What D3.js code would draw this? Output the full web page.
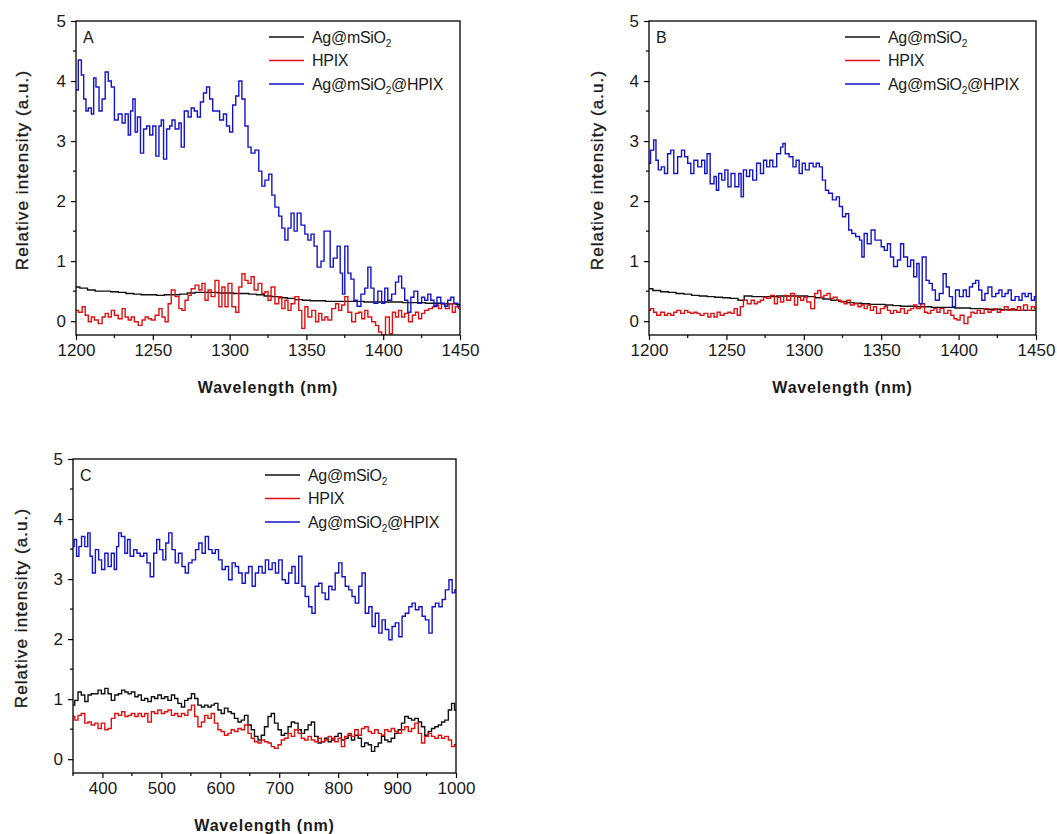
<!DOCTYPE html>
<html>
<head>
<meta charset="utf-8">
<script src="https://cdn.jsdelivr.net/npm/d3@7"></script>
<style>
  body { margin: 0; background: #fff; }
  svg { display: block; font-family: Arial, "Liberation Sans", sans-serif; }
</style>
</head>
<body>
<svg id="chart" width="1057" height="834"></svg>
<script>
// ---- data: [wavelength nm, relative intensity] ----
const seriesNames = ['Ag@mSiO2', 'HPIX', 'Ag@mSiO2@HPIX'];
const seriesColors = ['#111111', '#e01010', '#1414c8'];

// panel A
const agA = [[1200,0.57],[1205,0.55],[1210,0.52],[1215,0.5],[1220,0.5],[1225,0.49],[1230,0.48],[1235,0.46],[1240,0.45],[1245,0.44],[1250,0.44],[1255,0.43],[1260,0.44],[1265,0.44],[1270,0.45],[1275,0.47],[1280,0.48],[1285,0.48],[1290,0.48],[1295,0.47],[1300,0.47],[1305,0.46],[1310,0.46],[1315,0.45],[1320,0.44],[1325,0.42],[1330,0.41],[1335,0.39],[1340,0.38],[1345,0.36],[1350,0.35],[1355,0.34],[1360,0.34],[1365,0.33],[1370,0.33],[1375,0.33],[1380,0.33],[1385,0.33],[1390,0.32],[1395,0.32],[1400,0.32],[1405,0.32],[1410,0.32],[1415,0.31],[1420,0.31],[1425,0.31],[1430,0.3],[1435,0.3],[1440,0.29],[1445,0.29],[1450,0.28]];
const hpixA = [[1200,0.18],[1203,0.15],[1205,0.24],[1207,0.1],[1209,-0.01],[1211,0.07],[1213,0.02],[1216,-0.04],[1218,0.07],[1220,0.13],[1222,0.07],[1224,0.18],[1226,0.1],[1229,0.04],[1231,0.21],[1233,0.07],[1235,0.02],[1237,0.07],[1239,-0.01],[1242,-0.07],[1244,0.02],[1246,0.07],[1248,0.04],[1250,0.02],[1253,0.1],[1255,0.21],[1257,0.07],[1259,-0.01],[1261,0.29],[1263,0.52],[1266,0.41],[1268,0.21],[1270,0.18],[1272,0.35],[1274,0.43],[1276,0.54],[1279,0.6],[1281,0.52],[1283,0.63],[1285,0.35],[1287,0.52],[1289,0.41],[1292,0.68],[1294,0.24],[1296,0.57],[1298,0.24],[1300,0.63],[1303,0.24],[1305,0.15],[1307,0.57],[1309,0.79],[1311,0.68],[1313,0.63],[1315,0.74],[1317,0.52],[1320,0.63],[1322,0.46],[1324,0.49],[1326,0.35],[1328,0.57],[1331,0.29],[1333,0.41],[1335,0.21],[1337,0.35],[1339,0.18],[1341,0.29],[1344,0.41],[1346,0.18],[1348,-0.12],[1350,0.24],[1352,0.07],[1355,0.18],[1357,-0.01],[1359,0.13],[1361,0.02],[1363,0.07],[1365,0.02],[1368,0.21],[1370,0.29],[1372,0.18],[1374,0.27],[1376,0.41],[1378,0.15],[1381,-0.01],[1383,0.13],[1385,0.15],[1387,0.04],[1389,0.18],[1391,0.07],[1394,-0.01],[1396,-0.07],[1398,-0.18],[1400,-0.23],[1403,0.07],[1405,-0.21],[1407,0.15],[1409,0.07],[1411,0.18],[1413,0.07],[1415,0.13],[1418,-0.01],[1420,0.1],[1422,0.15],[1424,0.04],[1426,0.13],[1428,0.18],[1431,0.21],[1433,0.24],[1435,0.27],[1437,0.21],[1439,0.29],[1442,0.21],[1444,0.29],[1446,0.15],[1448,0.24],[1450,0.21]];
const agHpixA = [[1200,3.85],[1203,4.35],[1204,4.1],[1206,3.7],[1207,3.5],[1209,3.55],[1211,3.45],[1212,4.05],[1214,3.9],[1216,3.5],[1218,3.7],[1220,4.15],[1222,4.0],[1224,3.9],[1226,3.35],[1229,3.45],[1231,3.3],[1233,3.45],[1235,3.1],[1236,3.5],[1238,3.7],[1239,3.15],[1241,3.4],[1243,2.8],[1245,3.2],[1247,3.25],[1249,3.1],[1251,3.25],[1253,2.75],[1255,3.25],[1256,3.35],[1258,2.7],[1260,3.2],[1262,3.25],[1263,3.35],[1266,3.2],[1268,3.3],[1269,2.9],[1272,3.5],[1274,3.4],[1276,3.55],[1278,3.5],[1280,3.4],[1282,3.65],[1284,3.8],[1286,3.9],[1288,3.7],[1290,3.5],[1292,3.5],[1295,3.35],[1297,3.45],[1299,3.25],[1301,3.15],[1303,3.6],[1305,3.75],[1307,4.0],[1309,3.7],[1311,3.25],[1313,2.9],[1315,2.8],[1318,2.85],[1320,2.5],[1322,2.25],[1324,2.35],[1327,2.45],[1328,2.1],[1331,1.9],[1333,1.75],[1335,1.55],[1337,1.35],[1339,1.55],[1341,1.8],[1343,1.5],[1345,1.8],[1348,1.6],[1350,1.45],[1352,1.35],[1354,1.45],[1356,1.25],[1358,0.9],[1361,1.0],[1362,1.5],[1365,1.5],[1366,0.9],[1369,1.05],[1371,1.25],[1373,0.8],[1374,0.45],[1376,1.25],[1378,0.8],[1380,0.7],[1382,0.35],[1384,0.25],[1387,0.45],[1389,0.55],[1391,0.9],[1393,0.55],[1395,0.3],[1398,0.5],[1400,0.3],[1402,0.55],[1404,0.35],[1407,0.45],[1409,0.65],[1411,0.75],[1413,0.55],[1415,0.35],[1417,0.15],[1419,0.4],[1421,0.5],[1424,0.3],[1426,0.4],[1428,0.35],[1430,0.45],[1432,0.35],[1434,0.25],[1436,0.4],[1439,0.3],[1441,0.25],[1443,0.35],[1445,0.4],[1447,0.3],[1450,0.25]];

// panel B
const agB = [[1200,0.54],[1205,0.51],[1210,0.49],[1215,0.48],[1220,0.46],[1225,0.45],[1230,0.43],[1235,0.42],[1240,0.41],[1245,0.4],[1250,0.39],[1255,0.38],[1260,0.35],[1263,0.42],[1270,0.41],[1275,0.41],[1280,0.41],[1285,0.42],[1290,0.42],[1295,0.42],[1300,0.42],[1305,0.41],[1310,0.39],[1315,0.37],[1320,0.35],[1325,0.33],[1330,0.31],[1335,0.3],[1340,0.29],[1345,0.28],[1350,0.28],[1355,0.27],[1360,0.26],[1365,0.25],[1370,0.25],[1375,0.24],[1380,0.24],[1385,0.23],[1390,0.23],[1395,0.23],[1400,0.22],[1405,0.22],[1410,0.21],[1415,0.21],[1420,0.2],[1425,0.2],[1430,0.19],[1435,0.19],[1440,0.18],[1445,0.18],[1450,0.18]];
const hpixB = [[1200,0.18],[1202,0.21],[1204,0.15],[1206,0.1],[1209,0.15],[1211,0.1],[1213,0.13],[1215,0.1],[1217,0.15],[1219,0.18],[1222,0.13],[1224,0.18],[1226,0.15],[1228,0.13],[1230,0.15],[1232,0.13],[1234,0.1],[1237,0.13],[1239,0.07],[1241,0.13],[1243,0.07],[1245,0.15],[1247,0.1],[1250,0.13],[1252,0.15],[1254,0.13],[1256,0.21],[1258,0.1],[1260,0.24],[1262,0.35],[1265,0.29],[1267,0.35],[1269,0.29],[1271,0.32],[1273,0.35],[1275,0.4],[1277,0.38],[1280,0.43],[1282,0.29],[1284,0.4],[1286,0.32],[1288,0.43],[1290,0.35],[1293,0.46],[1295,0.27],[1297,0.4],[1299,0.35],[1301,0.4],[1303,0.32],[1306,0.21],[1308,0.46],[1310,0.51],[1312,0.4],[1314,0.43],[1316,0.46],[1318,0.38],[1320,0.4],[1323,0.35],[1325,0.32],[1327,0.29],[1329,0.35],[1331,0.27],[1334,0.29],[1336,0.24],[1338,0.27],[1340,0.21],[1342,0.27],[1344,0.18],[1346,0.24],[1348,0.13],[1351,0.21],[1353,0.24],[1355,0.18],[1357,0.13],[1359,0.18],[1361,0.15],[1364,0.21],[1366,0.13],[1368,0.18],[1370,0.21],[1372,0.27],[1374,0.21],[1377,0.29],[1379,0.15],[1381,0.13],[1383,0.18],[1385,0.21],[1387,0.15],[1389,0.21],[1392,0.13],[1394,0.18],[1396,0.1],[1398,0.04],[1400,0.02],[1402,0.1],[1405,-0.04],[1407,0.07],[1409,0.15],[1411,0.13],[1413,0.18],[1415,0.13],[1418,0.21],[1420,0.15],[1422,0.18],[1424,0.21],[1426,0.15],[1428,0.18],[1431,0.24],[1433,0.18],[1435,0.21],[1437,0.18],[1439,0.24],[1441,0.18],[1443,0.27],[1446,0.18],[1448,0.24],[1450,0.21]];
const agHpixB = [[1200,2.63],[1202,2.85],[1204,3.02],[1205,2.68],[1207,2.52],[1209,2.57],[1211,2.46],[1213,2.79],[1215,2.85],[1217,2.46],[1220,2.74],[1222,2.85],[1224,2.74],[1226,2.63],[1228,2.46],[1230,2.68],[1233,2.57],[1235,2.68],[1237,2.46],[1238,2.79],[1241,2.29],[1243,2.41],[1244,2.18],[1246,2.46],[1248,2.35],[1250,2.52],[1252,2.24],[1254,2.46],[1257,2.24],[1259,2.46],[1260,2.07],[1262,2.52],[1264,2.41],[1266,2.52],[1268,2.35],[1271,2.63],[1273,2.46],[1275,2.68],[1277,2.57],[1279,2.68],[1281,2.57],[1284,2.79],[1286,2.9],[1287,2.96],[1289,2.79],[1292,2.74],[1294,2.57],[1296,2.68],[1298,2.46],[1300,2.63],[1302,2.52],[1305,2.63],[1307,2.57],[1309,2.63],[1311,2.57],[1313,2.35],[1315,2.18],[1317,2.13],[1320,2.02],[1322,2.07],[1324,1.91],[1326,1.74],[1328,1.79],[1330,1.52],[1332,1.46],[1335,1.41],[1337,1.35],[1338,1.07],[1340,1.46],[1342,1.29],[1345,1.52],[1347,1.35],[1349,1.35],[1351,1.24],[1353,1.18],[1355,1.29],[1357,1.07],[1359,0.91],[1362,1.02],[1363,1.29],[1366,1.07],[1368,0.91],[1370,1.02],[1372,0.74],[1374,0.96],[1375,0.29],[1378,1.07],[1380,0.68],[1382,0.63],[1384,0.52],[1386,0.35],[1389,0.46],[1391,0.79],[1393,0.57],[1395,0.41],[1397,0.24],[1399,0.52],[1402,0.41],[1404,0.52],[1406,0.41],[1408,0.57],[1410,0.63],[1412,0.68],[1414,0.52],[1416,0.35],[1418,0.46],[1420,0.57],[1423,0.41],[1425,0.46],[1427,0.52],[1429,0.41],[1431,0.46],[1433,0.52],[1435,0.35],[1438,0.41],[1440,0.35],[1442,0.46],[1444,0.41],[1446,0.46],[1448,0.35],[1450,0.41]];

// panel C
const agC = [[350,0.9],[356,0.98],[361,1.12],[367,1.07],[373,0.96],[378,1.07],[384,1.09],[390,1.09],[395,1.15],[401,1.09],[407,1.18],[412,1.09],[418,0.98],[424,1.07],[430,1.09],[435,1.15],[441,1.12],[446,1.09],[452,1.12],[458,1.04],[463,1.07],[469,0.98],[474,1.01],[480,0.96],[486,1.04],[491,1.01],[497,1.07],[503,1.01],[508,1.04],[514,0.98],[520,1.07],[525,1.01],[531,0.93],[537,0.87],[542,0.98],[548,1.01],[554,1.09],[559,1.01],[565,0.9],[571,0.87],[576,0.9],[582,0.87],[587,0.9],[593,0.93],[599,0.82],[604,0.76],[610,0.85],[616,0.79],[621,0.76],[627,0.68],[633,0.62],[638,0.65],[644,0.73],[650,0.57],[655,0.49],[661,0.38],[667,0.32],[672,0.4],[678,0.54],[684,0.71],[689,0.76],[695,0.6],[701,0.49],[706,0.4],[712,0.43],[718,0.54],[723,0.62],[729,0.6],[735,0.49],[740,0.43],[746,0.49],[752,0.57],[757,0.62],[763,0.38],[769,0.27],[774,0.29],[780,0.35],[786,0.29],[791,0.32],[797,0.38],[803,0.43],[808,0.32],[814,0.35],[820,0.4],[825,0.32],[831,0.4],[837,0.35],[842,0.21],[848,0.27],[854,0.24],[859,0.13],[865,0.21],[871,0.27],[876,0.38],[882,0.32],[887,0.29],[893,0.35],[899,0.43],[905,0.49],[910,0.6],[916,0.71],[922,0.68],[927,0.65],[933,0.68],[939,0.62],[944,0.54],[950,0.4],[956,0.46],[961,0.51],[967,0.54],[973,0.57],[978,0.62],[984,0.65],[990,0.82],[995,0.93],[1000,0.82]];
const hpixC = [[350,0.71],[356,0.65],[361,0.73],[367,0.76],[373,0.6],[378,0.62],[384,0.57],[390,0.6],[395,0.51],[401,0.6],[407,0.49],[412,0.51],[418,0.68],[424,0.76],[430,0.73],[435,0.79],[441,0.71],[446,0.73],[452,0.76],[458,0.71],[463,0.76],[469,0.71],[474,0.76],[480,0.62],[486,0.79],[491,0.76],[497,0.82],[503,0.76],[508,0.79],[514,0.82],[520,0.73],[525,0.76],[531,0.71],[537,0.76],[542,0.73],[548,0.82],[554,0.9],[559,0.71],[565,0.54],[571,0.62],[576,0.73],[582,0.68],[587,0.76],[593,0.6],[599,0.49],[604,0.46],[610,0.4],[616,0.43],[621,0.49],[627,0.46],[633,0.51],[638,0.49],[644,0.57],[650,0.43],[655,0.35],[661,0.29],[667,0.27],[672,0.32],[678,0.29],[684,0.27],[689,0.21],[695,0.18],[701,0.24],[706,0.32],[712,0.35],[718,0.43],[723,0.38],[729,0.49],[735,0.43],[740,0.35],[746,0.32],[752,0.38],[757,0.32],[763,0.29],[769,0.35],[774,0.29],[780,0.32],[786,0.38],[791,0.35],[797,0.29],[803,0.35],[808,0.21],[814,0.38],[820,0.43],[825,0.38],[831,0.49],[837,0.4],[842,0.51],[848,0.54],[854,0.46],[859,0.43],[865,0.49],[871,0.43],[876,0.4],[882,0.49],[887,0.46],[893,0.51],[899,0.46],[905,0.43],[910,0.49],[916,0.54],[922,0.46],[927,0.51],[933,0.6],[939,0.43],[944,0.27],[950,0.38],[956,0.43],[961,0.38],[967,0.35],[973,0.4],[978,0.35],[984,0.38],[990,0.32],[995,0.21],[1000,0.24]];
const agHpixC = [[350,3.54],[354,3.66],[358,3.38],[362,3.54],[367,3.71],[373,3.54],[377,3.77],[381,3.38],[385,3.1],[391,3.49],[396,3.32],[401,3.16],[407,3.43],[412,3.21],[418,3.43],[422,3.16],[426,3.54],[429,3.77],[435,3.71],[441,3.43],[444,3.66],[450,3.38],[456,3.49],[461,3.43],[467,3.38],[473,3.43],[478,3.27],[484,3.04],[490,3.43],[494,3.66],[500,3.49],[505,3.32],[510,3.6],[515,3.77],[521,3.49],[526,3.27],[532,3.43],[538,3.21],[543,3.1],[549,3.27],[555,3.32],[561,3.49],[566,3.6],[572,3.43],[577,3.71],[583,3.49],[589,3.43],[594,3.49],[600,3.32],[606,3.16],[611,3.21],[617,2.99],[623,3.27],[628,3.21],[634,3.1],[640,2.93],[645,3.1],[651,3.21],[657,2.88],[662,3.1],[668,3.21],[674,3.1],[679,3.32],[685,3.16],[691,3.27],[696,3.1],[702,3.32],[708,2.99],[713,2.93],[719,3.1],[724,3.21],[730,2.93],[736,3.38],[741,2.88],[747,2.71],[753,2.54],[758,2.43],[764,2.88],[770,2.93],[775,2.77],[781,2.66],[787,2.88],[792,2.82],[798,3.1],[804,3.27],[809,3.04],[815,2.88],[821,2.82],[826,2.71],[832,2.6],[838,2.88],[843,3.1],[849,2.43],[855,2.54],[860,2.21],[866,2.43],[872,2.1],[877,2.32],[883,2.16],[889,1.99],[894,2.21],[900,2.27],[906,2.04],[911,2.38],[917,2.43],[923,2.54],[928,2.6],[934,2.49],[940,2.54],[945,2.38],[951,2.32],[957,2.1],[962,2.54],[968,2.6],[974,2.54],[979,2.66],[985,2.82],[991,2.99],[996,2.77],[1000,2.82]];

// axis ticks
const yTicks = [0, 1, 2, 3, 4, 5];
const yMinor = [0.5, 1.5, 2.5, 3.5, 4.5];
const xTicksNIR = [1200, 1250, 1300, 1350, 1400, 1450];
const xMinorNIR = [1225, 1275, 1325, 1375, 1425];
const xTicksVis = [400, 500, 600, 700, 800, 900, 1000];
const xMinorVis = [350, 450, 550, 650, 750, 850, 950];

const panels = [
  { label: 'A', left: 76, right: 460, top: 21, bottom: 335, x: [1200, 1450],
    ticks: xTicksNIR, minor: xMinorNIR, data: [agA, hpixA, agHpixA], yTitleX: 22 },
  { label: 'B', left: 649, right: 1036, top: 21, bottom: 335, x: [1200, 1450],
    ticks: xTicksNIR, minor: xMinorNIR, data: [agB, hpixB, agHpixB], yTitleX: 597 },
  { label: 'C', left: 73, right: 456, top: 459, bottom: 773, x: [350, 1000],
    ticks: xTicksVis, minor: xMinorVis, data: [agC, hpixC, agHpixC], yTitleX: 21 }
];

const svg = d3.select('#chart');

panels.forEach((p, pi) => {
  const x = d3.scaleLinear().domain(p.x).range([p.left, p.right]);
  const y = d3.scaleLinear().domain([-0.23, 5]).range([p.bottom, p.top]);
  const g = svg.append('g');

  const clipId = 'clip' + pi;
  svg.append('clipPath').attr('id', clipId)
    .append('rect')
    .attr('x', p.left).attr('y', p.top)
    .attr('width', p.right - p.left).attr('height', p.bottom - p.top);

  // the spectra look stair-stepped in the original, so step between readings
  const line = d3.line().curve(d3.curveStep).x(d => x(d[0])).y(d => y(d[1]));
  const lines = g.append('g').attr('clip-path', `url(#${clipId})`);
  p.data.forEach((s, i) => {
    lines.append('path')
      .attr('d', line(s))
      .attr('fill', 'none')
      .attr('stroke', seriesColors[i])
      .attr('stroke-width', 1.4);
  });

  // axes
  const xAxis = d3.axisBottom(x).tickValues(p.ticks).tickFormat(d3.format('d'))
    .tickSize(5).tickPadding(4);
  const yAxis = d3.axisLeft(y).tickValues(yTicks).tickFormat(d3.format('d'))
    .tickSize(5).tickPadding(5);
  const gx = g.append('g').attr('transform', `translate(0,${p.bottom})`).call(xAxis);
  const gy = g.append('g').attr('transform', `translate(${p.left},0)`).call(yAxis);
  [gx, gy].forEach(a => {
    a.select('.domain').remove();
    a.selectAll('line').attr('stroke', '#000').attr('stroke-width', 1.2);
    a.selectAll('text').attr('font-size', 17).attr('fill', '#1a1a1a')
      .attr('font-family', 'Arial, "Liberation Sans", sans-serif');
  });

  g.selectAll('.xminor').data(p.minor).join('line')
    .attr('x1', d => x(d)).attr('x2', d => x(d))
    .attr('y1', p.bottom).attr('y2', p.bottom + 3)
    .attr('stroke', '#000').attr('stroke-width', 1.2);
  g.selectAll('.yminor').data(yMinor).join('line')
    .attr('x1', p.left - 3).attr('x2', p.left)
    .attr('y1', d => y(d)).attr('y2', d => y(d))
    .attr('stroke', '#000').attr('stroke-width', 1.2);

  // frame
  g.append('rect')
    .attr('x', p.left).attr('y', p.top)
    .attr('width', p.right - p.left).attr('height', p.bottom - p.top)
    .attr('fill', 'none').attr('stroke', '#000').attr('stroke-width', 1.3);

  // panel letter
  g.append('text')
    .attr('x', p.left + 7).attr('y', p.top + 22)
    .attr('font-size', 16).attr('fill', '#1a1a1a')
    .text(p.label);

  // axis titles
  g.append('text')
    .attr('x', (p.left + p.right) / 2).attr('y', p.bottom + 58)
    .attr('text-anchor', 'middle')
    .attr('font-size', 16).attr('font-weight', 'bold')
    .attr('letter-spacing', 0.8).attr('fill', '#1a1a1a')
    .text('Wavelength (nm)');
  g.append('text')
    .attr('transform', `translate(${p.yTitleX},${(p.top + p.bottom) / 2 - 8}) rotate(-90)`)
    .attr('text-anchor', 'middle').attr('dy', '0.35em')
    .attr('font-size', 17)
    .attr('letter-spacing', 1.1).attr('fill', '#1a1a1a')
    .attr('stroke', '#1a1a1a').attr('stroke-width', 0.35)
    .text('Relative intensity (a.u.)');

  // legend
  const lx = p.right - 191;
  seriesNames.forEach((name, i) => {
    const ly = p.top + 16 + i * 23.5;
    g.append('line')
      .attr('x1', lx).attr('x2', lx + 35)
      .attr('y1', ly).attr('y2', ly)
      .attr('stroke', seriesColors[i]).attr('stroke-width', 1.4);
    const t = g.append('text')
      .attr('x', lx + 43).attr('y', ly).attr('dy', '0.35em')
      .attr('font-size', 16).attr('letter-spacing', -0.3).attr('fill', '#1a1a1a');
    const parts = name.split('SiO2');
    if (parts.length > 1) {
      t.append('tspan').text(parts[0] + 'SiO');
      t.append('tspan').attr('font-size', 10).attr('dy', 4).text('2');
      if (parts[1]) t.append('tspan').attr('dy', -4).text(parts[1]);
    } else {
      t.text(name);
    }
  });
});
</script>
</body>
</html>
